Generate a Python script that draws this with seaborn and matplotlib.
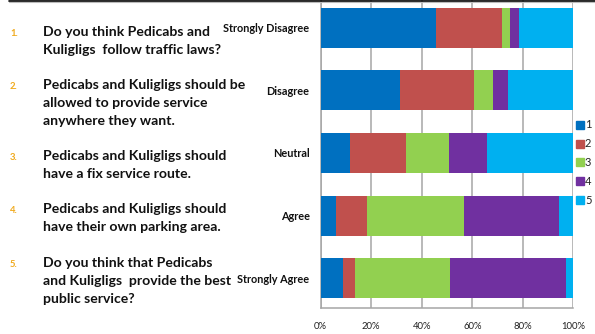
import matplotlib
matplotlib.use("Agg")
import matplotlib.pyplot as plt
import seaborn as sns
import pandas as pd
import numpy as np

categories = ["Strongly Disagree", "Disagree", "Neutral", "Agree", "Strongly Agree"]
series_names = ["1", "2", "3", "4", "5"]
s1 = [45.8, 31.4, 11.6, 6.1, 9.0]
s2 = [26.0, 29.3, 22.2, 12.1, 4.6]
s3 = [3.0, 7.5, 16.9, 38.5, 37.7]
s4 = [3.7, 5.9, 15.0, 37.6, 45.7]
s5 = [21.5, 25.9, 34.3, 5.7, 3.0]
colors = ["#0070C0", "#C0504D", "#92D050", "#7030A0", "#00B0F0"]
questions = [
    ["Do you think Pedicabs and", "Kuligligs  follow traffic laws?"],
    ["Pedicabs and Kuligligs should be", "allowed to provide service", "anywhere they want."],
    ["Pedicabs and Kuligligs should", "have a fix service route."],
    ["Pedicabs and Kuligligs should", "have their own parking area."],
    ["Do you think that Pedicabs", "and Kuligligs  provide the best", "public service?"],
]
numbers = ["1.", "2.", "3.", "4.", "5."]
xticks = [0, 20, 40, 60, 80, 100]
xticklabels = ["0%", "20%", "40%", "60%", "80%", "100%"]

sns.set_theme(style="white")
plt.rcParams['font.family'] = ['Lato', 'DejaVu Sans']

W, H = 595, 334
fig = plt.figure(figsize=(W / 100, H / 100), dpi=100)
ax = fig.add_axes([320.7 / W, 1 - 308.3 / H, 252.6 / W, 308.3 / H])

vals = np.array([s1, s2, s3, s4, s5])
cum = np.cumsum(vals, axis=0)
for i in range(4, -1, -1):
    df = pd.DataFrame({"cat": categories, "val": cum[i]})
    sns.barplot(data=df, x="val", y="cat", orient="h", color=colors[i],
                width=0.64, ax=ax, saturation=1, linewidth=0, zorder=3)

ax.set_xlim(0, 100)
ax.set_ylim(4.48, -0.44)
ax.set_xticks(xticks)
ax.set_xticklabels(xticklabels, fontsize=6.8, color="#222222")
ax.set_xlabel("")
ax.set_ylabel("")
ax.set_yticks(range(5))
ax.set_yticklabels(categories, fontsize=7.8, color="#111111", fontweight="bold")
ax.tick_params(axis="y", length=0, pad=8)
ax.tick_params(axis="x", length=0, pad=10)
for x in xticks:
    ax.axvline(x, color="#A6A6A6", lw=1.1, zorder=1)
for s in ["top", "right"]:
    ax.spines[s].set_visible(False)
for s in ["left", "bottom"]:
    ax.spines[s].set_color("#A6A6A6")
    ax.spines[s].set_linewidth(1.1)
ax.grid(False)

# legend
for i, name in enumerate(series_names):
    y = 1 - (124.7 + i * 18.9) / H
    fig.patches.append(plt.Rectangle((575.5 / W, y - 4 / H), 8 / W, 8 / H,
                                     transform=fig.transFigure, color=colors[i], figure=fig))
    fig.text(585 / W, y, name, fontsize=8, va="center", ha="left", color="#222222")

# question text
q_y = [32, 85, 155.7, 209.3, 263.3]
for n, q, y in zip(numbers, questions, q_y):
    fig.text(10 / W, 1 - (y + 1.5) / H, n, fontsize=6.8, color="#F0AA1E",
             fontweight="bold", va="center", ha="left")
    for k, line in enumerate(q):
        fig.text(43 / W, 1 - (y + k * 18) / H, line, fontsize=10.1, color="#111111",
                 fontweight="bold", va="center", ha="left")

# top border
fig.add_artist(plt.Line2D([9 / W, 1], [1 - 0.6 / H, 1 - 0.6 / H], color="black", lw=1.2,
                          transform=fig.transFigure))
fig.add_artist(plt.Line2D([9 / W, 1], [1 - 2.2 / H, 1 - 2.2 / H], color="#BBBBBB", lw=0.8,
                          transform=fig.transFigure))

fig.savefig("out.png", dpi=100)
